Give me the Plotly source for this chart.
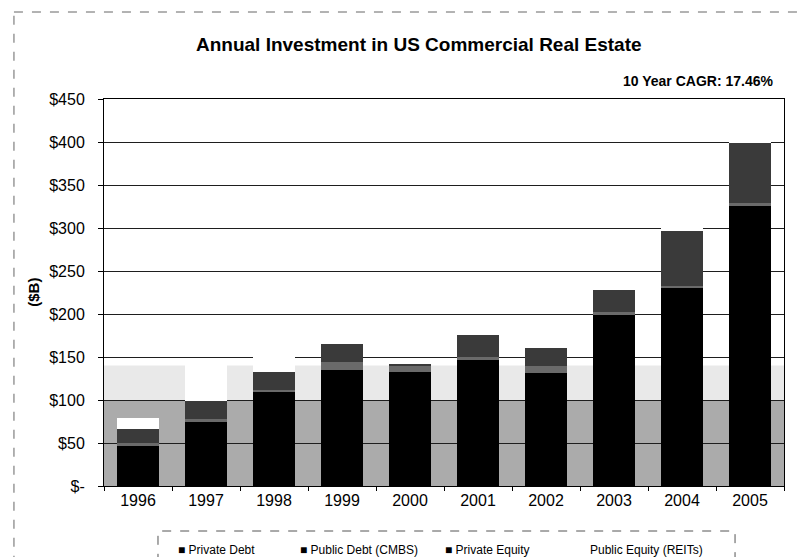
import plotly.graph_objects as go

# ---- data ($B) ----
years = ["1996", "1997", "1998", "1999", "2000", "2001", "2002", "2003", "2004", "2005"]
private_debt = [47, 75, 109, 135, 133, 146, 131, 199, 230, 326]
public_debt_cmbs = [3, 3, 3, 9, 6, 4, 9, 3, 3, 3]
private_equity = [16, 21, 21, 21, 4, 26, 21, 26, 63, 70]
public_equity_reits = [13, 46, 20, 5, 2, 5, 8, 10, 15, 18]
y_ticks = [0, 50, 100, 150, 200, 250, 300, 350, 400, 450]
y_tick_labels = ["$-", "$50", "$100", "$150", "$200", "$250", "$300", "$350", "$400", "$450"]
series_names = ["Private Debt", "Public Debt (CMBS)", "Private Equity", "Public Equity (REITs)"]

FONT = "Liberation Sans, Arial, sans-serif"
colors = ["#000000", "#6a6a6a", "#3a3a3a", "#ffffff"]
series_values = [private_debt, public_debt_cmbs, private_equity, public_equity_reits]

fig = go.Figure()
for name, vals, col in zip(series_names, series_values, colors):
    fig.add_trace(go.Bar(x=years, y=vals, name=name, marker=dict(color=col, line=dict(width=0)),
                         showlegend=False))

# plot-area background bands (dithered grey in the scan)
fig.add_shape(type="rect", xref="paper", yref="y", x0=0, x1=1, y0=0, y1=100,
              fillcolor="#ababab", line_width=0, layer="below")
fig.add_shape(type="rect", xref="paper", yref="y", x0=0, x1=1, y0=100, y1=140,
              fillcolor="#e9e9e9", line_width=0, layer="below")

# legend box (dashed) and outer dashed frame
fig.add_shape(type="rect", xref="paper", yref="paper", x0=0.0794, x1=0.928, y0=-0.238, y1=-0.1163,
              line=dict(color="#555555", width=1, dash="dash"), fillcolor="rgba(0,0,0,0)")
fig.add_shape(type="line", xref="paper", yref="paper", x0=-0.1324, x1=1.06, y0=1.2248, y1=1.2248,
              line=dict(color="#666666", width=1, dash="dash"))
fig.add_shape(type="line", xref="paper", yref="paper", x0=-0.1324, x1=-0.1324, y0=-0.25, y1=1.2248,
              line=dict(color="#666666", width=1, dash="dash"))

# legend entries
legend_x = [0.1059, 0.285, 0.4985, 0.7118]
legend_texts = ["■ " + series_names[0], "■ " + series_names[1], "■ " + series_names[2], series_names[3]]
for lx, lt in zip(legend_x, legend_texts):
    fig.add_annotation(text=lt, xref="paper", yref="paper", x=lx, y=-0.165, xanchor="left",
                       yanchor="middle", showarrow=False, font=dict(family=FONT, size=12, color="#000"))

# titles
fig.add_annotation(text="<b>Annual Investment in US Commercial Real Estate</b>", xref="paper", yref="paper",
                   x=0.463, y=1.142, xanchor="center", yanchor="middle", showarrow=False,
                   font=dict(family=FONT, size=19, color="#000"))
fig.add_annotation(text="<b>10 Year CAGR: 17.46%</b>", xref="paper", yref="paper",
                   x=0.987, y=1.0465, xanchor="right", yanchor="middle", showarrow=False,
                   font=dict(family=FONT, size=14, color="#000"))
fig.add_annotation(text="<b>($B)</b>", xref="paper", yref="paper", x=-0.104, y=0.5,
                   xanchor="center", yanchor="middle", textangle=-90, showarrow=False,
                   font=dict(family=FONT, size=15, color="#000"))

fig.update_layout(
    barmode="stack",
    bargap=0.37,
    width=809, height=557,
    margin=dict(l=96, r=33, t=91, b=79),
    paper_bgcolor="white", plot_bgcolor="white",
    font=dict(family=FONT, color="#000"),
    xaxis=dict(type="category", showline=True, linecolor="#000", linewidth=1, mirror=True,
               ticks="outside", tickson="boundaries", ticklen=4, tickcolor="#000",
               tickfont=dict(family=FONT, size=16, color="#000"), showgrid=False),
    yaxis=dict(range=[0, 450], tickvals=y_ticks, ticktext=y_tick_labels, showline=True,
               linecolor="#000", linewidth=1, mirror=True, ticks="outside", ticklen=5,
               tickcolor="#000", ticklabelstandoff=10, showgrid=True, gridcolor="#1e1e1e",
               gridwidth=1, zeroline=False, tickfont=dict(family=FONT, size=16, color="#000")),
)

fig.write_html("out.html")
